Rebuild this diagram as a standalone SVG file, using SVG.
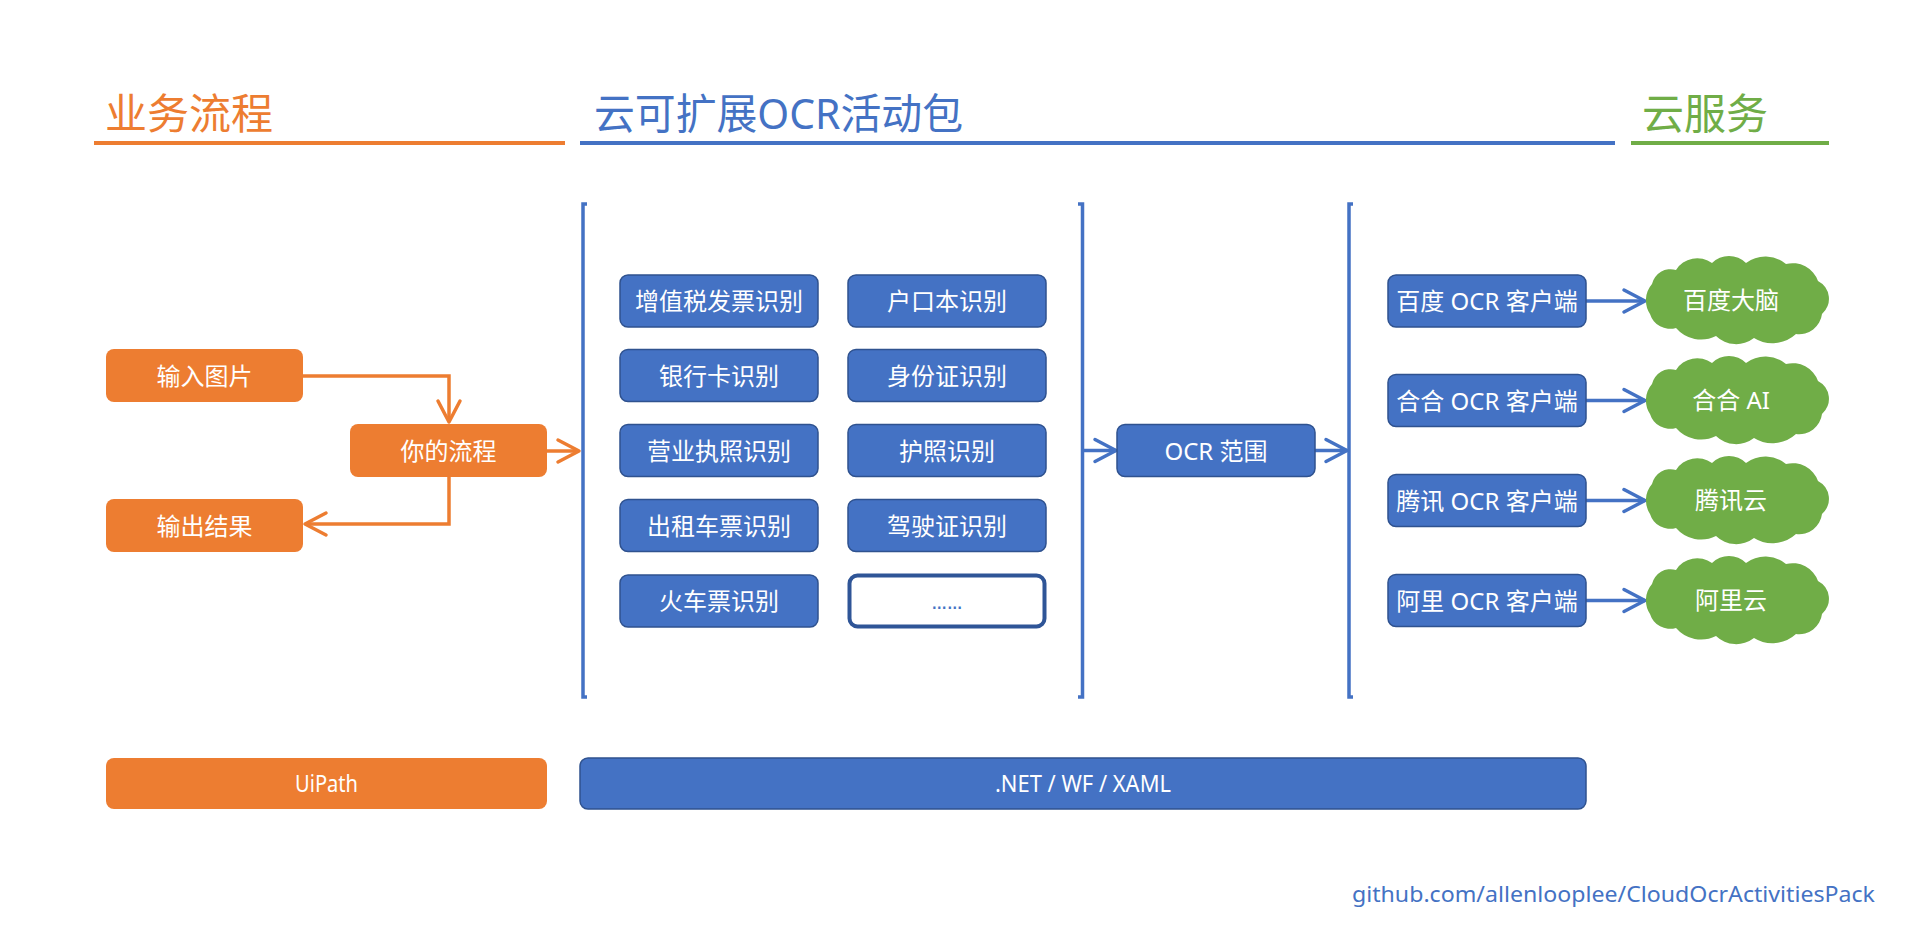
<svg xmlns="http://www.w3.org/2000/svg" width="1923" height="947" viewBox="0 0 1923 947">
<defs>
<style>
.t{font-family:"Noto Sans","Noto Sans CJK SC",sans-serif;fill:#FFFFFF;font-size:24px;text-anchor:middle}
.h{font-family:"Noto Sans","Noto Sans CJK SC",sans-serif;font-size:42px}
.ob{fill:#ED7D31}
.bb{fill:#4472C4;stroke:#2F528F;stroke-width:1.5}
.cl{fill:#70AD47}
.co{fill:none;stroke:#ED7D31;stroke-width:3.5}
.cb{fill:none;stroke:#4472C4;stroke-width:3.5}
.br{fill:none;stroke:#4472C4;stroke-width:3.5}
</style>
<marker id="ao" markerUnits="userSpaceOnUse" markerWidth="40" markerHeight="40" viewBox="-30 -20 40 40" refX="0" refY="0" orient="auto" overflow="visible">
<path d="M-21,-11 L0,0 L-21,11" fill="none" stroke="#ED7D31" stroke-width="3.5" stroke-linejoin="round" stroke-linecap="round"/>
</marker>
<marker id="ab" markerUnits="userSpaceOnUse" markerWidth="40" markerHeight="40" viewBox="-30 -20 40 40" refX="0" refY="0" orient="auto" overflow="visible">
<path d="M-21,-11 L0,0 L-21,11" fill="none" stroke="#4472C4" stroke-width="3.5" stroke-linejoin="round" stroke-linecap="round"/>
</marker>
<path id="cloud" d="M4,58 A25,25 0 0 1 6,28 A19,19 0 0 1 30,14 A25,25 0 0 1 66,7 A24,24 0 0 1 100,7 A32,32 0 0 1 140,8 A27,27 0 0 1 172,25 A20,20 0 0 1 176,58 A23,23 0 0 1 150,78 A35,35 0 0 1 108,82 A29,29 0 0 1 70,80 A33,33 0 0 1 30,72 A21,21 0 0 1 4,58 Z"/>
</defs>
<rect width="1923" height="947" fill="#FFFFFF"/>

<g id="headers">
<text class="h" x="105" y="129" fill="#ED7D31">业务流程</text>
<line x1="94" y1="143" x2="565" y2="143" stroke="#ED7D31" stroke-width="4"/>
<text class="h" x="594" y="129" fill="#4472C4" textLength="369" lengthAdjust="spacingAndGlyphs">云可扩展OCR活动包</text>
<line x1="580" y1="143" x2="1615" y2="143" stroke="#4472C4" stroke-width="4"/>
<text class="h" x="1642" y="129" fill="#70AD47">云服务</text>
<line x1="1631" y1="143" x2="1829" y2="143" stroke="#70AD47" stroke-width="4"/>
</g>

<g id="brackets">
<path class="br" d="M587,204 H583 V697 H587"/>
<path class="br" d="M1078,204 H1082.5 V697 H1078"/>
<path class="br" d="M1353,204 H1349 V697 H1353"/>
</g>

<g id="connectors">
<path class="co" d="M303,376 H449 V422" marker-end="url(#ao)"/>
<path class="co" d="M449,477 V524 H305" marker-end="url(#ao)"/>
<path class="co" d="M547,451 H579" marker-end="url(#ao)"/>
<path class="cb" d="M1084,450.5 H1116" marker-end="url(#ab)"/>
<path class="cb" d="M1315,450.5 H1347" marker-end="url(#ab)"/>
<path class="cb" d="M1586,301 H1645" marker-end="url(#ab)"/>
<path class="cb" d="M1586,400.5 H1645" marker-end="url(#ab)"/>
<path class="cb" d="M1586,500.5 H1645" marker-end="url(#ab)"/>
<path class="cb" d="M1586,600.5 H1645" marker-end="url(#ab)"/>
</g>

<g id="n-input"><rect class="ob" x="106" y="349" width="197" height="53" rx="8"/><text class="t" x="204.5" y="384.5">输入图片</text></g>
<g id="n-flow"><rect class="ob" x="350" y="424" width="197" height="53" rx="8"/><text class="t" x="448.5" y="459.5">你的流程</text></g>
<g id="n-output"><rect class="ob" x="106" y="499" width="197" height="53" rx="8"/><text class="t" x="204.5" y="534.5">输出结果</text></g>

<g id="n-vat"><rect class="bb" x="620" y="275" width="198" height="52" rx="8"/><text class="t" x="719" y="310">增值税发票识别</text></g>
<g id="n-hukou"><rect class="bb" x="848" y="275" width="198" height="52" rx="8"/><text class="t" x="947" y="310">户口本识别</text></g>
<g id="n-bank"><rect class="bb" x="620" y="349.5" width="198" height="52" rx="8"/><text class="t" x="719" y="384.5">银行卡识别</text></g>
<g id="n-id"><rect class="bb" x="848" y="349.5" width="198" height="52" rx="8"/><text class="t" x="947" y="384.5">身份证识别</text></g>
<g id="n-biz"><rect class="bb" x="620" y="424.5" width="198" height="52" rx="8"/><text class="t" x="719" y="459.5">营业执照识别</text></g>
<g id="n-passport"><rect class="bb" x="848" y="424.5" width="198" height="52" rx="8"/><text class="t" x="947" y="459.5">护照识别</text></g>
<g id="n-taxi"><rect class="bb" x="620" y="499.5" width="198" height="52" rx="8"/><text class="t" x="719" y="534.5">出租车票识别</text></g>
<g id="n-driver"><rect class="bb" x="848" y="499.5" width="198" height="52" rx="8"/><text class="t" x="947" y="534.5">驾驶证识别</text></g>
<g id="n-train"><rect class="bb" x="620" y="575" width="198" height="52" rx="8"/><text class="t" x="719" y="610">火车票识别</text></g>
<g id="n-more"><rect x="849.5" y="575.5" width="195" height="51" rx="8" fill="#FFFFFF" stroke="#2F5597" stroke-width="4"/><text x="947" y="609" font-family="Liberation Sans,sans-serif" font-size="17" font-weight="bold" fill="#4472C4" text-anchor="middle" textLength="31" lengthAdjust="spacingAndGlyphs">……</text></g>

<g id="n-scope"><rect class="bb" x="1117" y="424.5" width="198" height="52" rx="8"/><text class="t" x="1216" y="459.5">OCR 范围</text></g>

<g id="n-baidu"><rect class="bb" x="1388" y="275" width="198" height="52" rx="8"/><text class="t" x="1487" y="310">百度 OCR 客户端</text></g>
<g id="n-hehe"><rect class="bb" x="1388" y="374.5" width="198" height="52" rx="8"/><text class="t" x="1487" y="409.5">合合 OCR 客户端</text></g>
<g id="n-tencent"><rect class="bb" x="1388" y="474.5" width="198" height="52" rx="8"/><text class="t" x="1487" y="509.5">腾讯 OCR 客户端</text></g>
<g id="n-ali"><rect class="bb" x="1388" y="574.5" width="198" height="52" rx="8"/><text class="t" x="1487" y="609.5">阿里 OCR 客户端</text></g>

<g id="c-baidu"><use href="#cloud" class="cl" transform="translate(1646,256)"/><text class="t" x="1731" y="309">百度大脑</text></g>
<g id="c-hehe"><use href="#cloud" class="cl" transform="translate(1646,356)"/><text class="t" x="1731" y="409">合合 AI</text></g>
<g id="c-tencent"><use href="#cloud" class="cl" transform="translate(1646,456)"/><text class="t" x="1731" y="509">腾讯云</text></g>
<g id="c-ali"><use href="#cloud" class="cl" transform="translate(1646,556)"/><text class="t" x="1731" y="609">阿里云</text></g>

<g id="n-uipath"><rect class="ob" x="106" y="758" width="441" height="51" rx="8"/><text class="t" x="326.5" y="792" font-size="22" textLength="63" lengthAdjust="spacingAndGlyphs">UiPath</text></g>
<g id="n-dotnet"><rect class="bb" x="580" y="758" width="1006" height="51" rx="8"/><text class="t" x="1083" y="792" font-size="22" textLength="176" lengthAdjust="spacingAndGlyphs">.NET / WF / XAML</text></g>

<g id="footer"><text x="1352" y="902" font-family="Noto Sans,sans-serif" font-size="22" fill="#4472C4" textLength="523" lengthAdjust="spacingAndGlyphs">github.com/allenlooplee/CloudOcrActivitiesPack</text></g>
</svg>
